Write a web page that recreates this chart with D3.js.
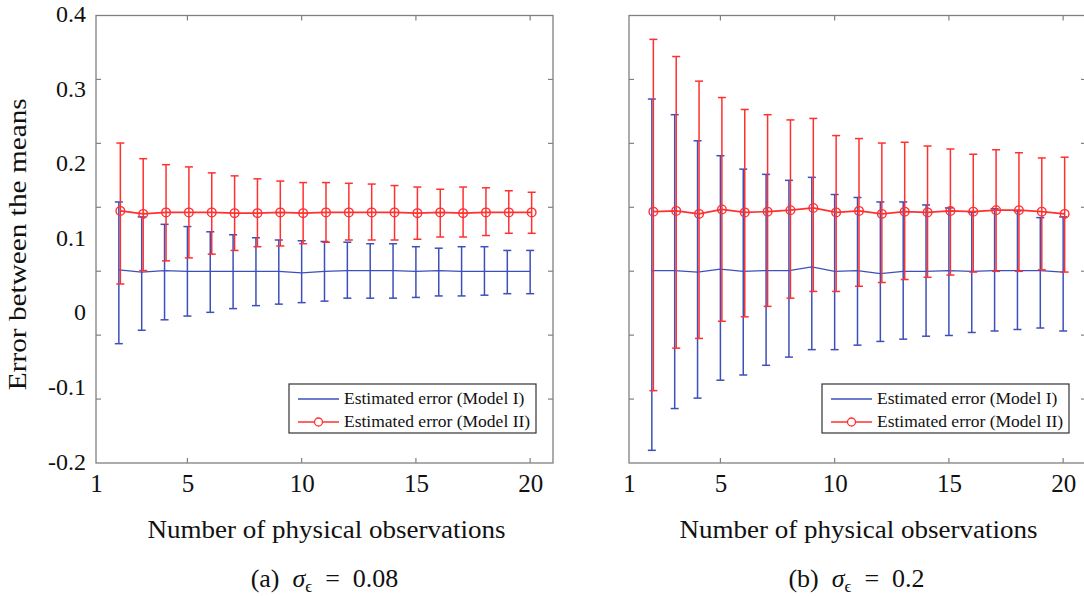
<!DOCTYPE html>
<html>
<head>
<meta charset="utf-8">
<script src="https://cdn.jsdelivr.net/npm/d3@7"></script>
<style>
  body { margin: 0; background: #fff; }
  svg { display: block; }
</style>
</head>
<body>
<svg id="chart" width="1084" height="596"></svg>
<script>
// number of physical observations (both panels)
var obs = [2, 3, 4, 5, 6, 7, 8, 9, 10, 11, 12, 13, 14, 15, 16, 17, 18, 19, 20];

// panel (a) sigma = 0.08
var m1MeanA = [0.059, 0.056, 0.058, 0.057, 0.057, 0.057, 0.057, 0.057, 0.055, 0.057, 0.058, 0.058, 0.058, 0.057, 0.058, 0.057, 0.057, 0.057, 0.057];
var m1LowA  = [-0.040, -0.022, -0.008, -0.003, 0.002, 0.007, 0.011, 0.013, 0.015, 0.017, 0.021, 0.021, 0.021, 0.022, 0.024, 0.024, 0.025, 0.027, 0.027];
var m1HighA = [0.150, 0.130, 0.120, 0.117, 0.110, 0.106, 0.102, 0.099, 0.098, 0.097, 0.096, 0.094, 0.094, 0.090, 0.088, 0.090, 0.090, 0.085, 0.085];
var m2MeanA = [0.138, 0.134, 0.136, 0.136, 0.136, 0.135, 0.135, 0.136, 0.135, 0.136, 0.136, 0.136, 0.136, 0.135, 0.136, 0.135, 0.136, 0.136, 0.136];
var m2LowA  = [0.040, 0.058, 0.071, 0.075, 0.080, 0.085, 0.090, 0.091, 0.094, 0.096, 0.099, 0.099, 0.099, 0.100, 0.103, 0.103, 0.105, 0.108, 0.108];
var m2HighA = [0.229, 0.208, 0.200, 0.197, 0.189, 0.185, 0.181, 0.178, 0.176, 0.176, 0.175, 0.174, 0.172, 0.170, 0.167, 0.170, 0.169, 0.165, 0.163];

// panel (b) sigma = 0.2
var m1MeanB = [0.058, 0.058, 0.056, 0.060, 0.057, 0.058, 0.058, 0.063, 0.057, 0.058, 0.054, 0.057, 0.057, 0.058, 0.057, 0.058, 0.058, 0.058, 0.056];
var m1LowB  = [-0.183, -0.127, -0.113, -0.089, -0.082, -0.069, -0.058, -0.048, -0.048, -0.042, -0.037, -0.034, -0.030, -0.029, -0.025, -0.023, -0.021, -0.019, -0.023];
var m1HighB = [0.288, 0.267, 0.232, 0.212, 0.194, 0.187, 0.179, 0.183, 0.160, 0.156, 0.150, 0.150, 0.146, 0.142, 0.136, 0.141, 0.138, 0.129, 0.130];
var m2MeanB = [0.137, 0.138, 0.134, 0.140, 0.136, 0.137, 0.139, 0.142, 0.136, 0.138, 0.134, 0.137, 0.136, 0.138, 0.137, 0.139, 0.139, 0.137, 0.134];
var m2LowB  = [-0.103, -0.046, -0.033, -0.010, -0.004, 0.010, 0.021, 0.030, 0.030, 0.037, 0.042, 0.046, 0.049, 0.052, 0.056, 0.057, 0.057, 0.059, 0.056];
var m2HighB = [0.368, 0.345, 0.312, 0.290, 0.274, 0.267, 0.260, 0.262, 0.239, 0.235, 0.229, 0.230, 0.225, 0.221, 0.214, 0.220, 0.216, 0.209, 0.210];

// tick labels
var xTicks = [1, 5, 10, 15, 20];
var yLabels = [-0.2, -0.1, 0, 0.1, 0.2, 0.3, 0.4];
// the plot's own tick marks (not labelled)
var yMarks = [-0.2, -0.1, 0, 0.1, 0.2, 0.3];
var legendNames = ["Estimated error (Model I)", "Estimated error (Model II)"];

var blue = "#3d4fbb", red = "#ff3030";
var serif = "'Liberation Serif', 'DejaVu Serif', serif";

var svg = d3.select("#chart");
svg.append("rect").attr("width", 1084).attr("height", 596).attr("fill", "#fff");

var plotTop = 15.5, plotBottom = 463;

function drawPanel(x0, x1, labelY, caption, m1, m2) {
  var g = svg.append("g").attr("font-family", serif);
  var x = d3.scaleLinear().domain([1, 21]).range([x0, x1]);
  var y = d3.scaleLinear().domain([-0.2, 0.4]).range([plotBottom, plotTop]);
  var yIn = d3.scaleLinear().domain([-0.3, 0.4]).range([plotBottom, plotTop]);

  // frame
  g.append("rect")
    .attr("x", x0).attr("y", plotTop)
    .attr("width", x1 - x0).attr("height", plotBottom - plotTop)
    .attr("fill", "none").attr("stroke", "#808080").attr("stroke-width", 1.3);

  // inward tick marks on all four sides
  var tk = 5;
  var xm = xTicks.slice(1);
  g.selectAll(".xtb").data(xm).enter().append("line")
    .attr("x1", x).attr("x2", x).attr("y1", plotBottom).attr("y2", plotBottom - tk)
    .attr("stroke", "#808080").attr("stroke-width", 1.2);
  g.selectAll(".xtt").data(xm).enter().append("line")
    .attr("x1", x).attr("x2", x).attr("y1", plotTop).attr("y2", plotTop + tk)
    .attr("stroke", "#808080").attr("stroke-width", 1.2);
  g.selectAll(".ytl").data(yMarks).enter().append("line")
    .attr("x1", x0).attr("x2", x0 + tk).attr("y1", yIn).attr("y2", yIn)
    .attr("stroke", "#808080").attr("stroke-width", 1.2);
  g.selectAll(".ytr").data(yMarks).enter().append("line")
    .attr("x1", x1).attr("x2", x1 - tk).attr("y1", yIn).attr("y2", yIn)
    .attr("stroke", "#808080").attr("stroke-width", 1.2);

  // x tick labels
  g.append("g")
    .attr("transform", "translate(0," + (plotBottom + 5) + ")")
    .call(d3.axisBottom(x).tickValues(xTicks).tickSize(0).tickFormat(d3.format("d")))
    .attr("font-family", serif)
    .call(function (a) { a.select(".domain").remove(); })
    .selectAll("text")
    .attr("font-size", 25).attr("dy", "0.85em").attr("fill", "#111");

  if (labelY) {
    g.append("g")
      .attr("transform", "translate(" + (x0 - 7) + ",0)")
      .call(d3.axisLeft(y).tickValues(yLabels).tickSize(0).tickFormat(function (d) { return String(d); }))
      .attr("font-family", serif)
      .call(function (a) { a.select(".domain").remove(); })
      .selectAll("text")
      .attr("font-size", 24).attr("dy", "0.25em").attr("fill", "#111");

    g.append("text")
      .attr("transform", "translate(26," + ((plotTop + plotBottom) / 2 + 5) + ") rotate(-90)")
      .attr("text-anchor", "middle")
      .attr("font-size", 25).attr("fill", "#111")
      .attr("textLength", 292).attr("lengthAdjust", "spacingAndGlyphs")
      .text("Error between the means");
  }

  // axis title and caption
  var cx = (x0 + Math.min(x1, 1084)) / 2 + 2;
  g.append("text")
    .attr("x", cx).attr("y", 538)
    .attr("text-anchor", "middle").attr("font-size", 26).attr("fill", "#111")
    .attr("textLength", 358).attr("lengthAdjust", "spacingAndGlyphs")
    .text("Number of physical observations");

  var cap = g.append("text")
    .attr("x", cx - 2).attr("y", 587)
    .attr("text-anchor", "middle").attr("font-size", 26).attr("fill", "#111");
  cap.append("tspan").text("(" + caption[0] + ")\u2002");
  cap.append("tspan").attr("font-style", "italic").text("σ");
  cap.append("tspan").attr("font-size", 17).attr("dy", 5).text("ϵ");
  cap.append("tspan").attr("dy", -5).text("\u2002=\u2002" + caption[1]);

  // series
  var series = [
    { mean: m1[0], lo: m1[1], hi: m1[2], color: blue, dx: 0, marker: false },
    { mean: m2[0], lo: m2[1], hi: m2[2], color: red, dx: 1.5, marker: true }
  ];

  series.forEach(function (s) {
    var pts = obs.map(function (o, i) { return { o: o, mean: s.mean[i], lo: s.lo[i], hi: s.hi[i] }; });
    var eg = g.append("g").attr("stroke", s.color).attr("stroke-width", 1.5).attr("fill", "none");
    var px = function (d) { return x(d.o) + s.dx; };

    eg.selectAll(".bar").data(pts).enter().append("line")
      .attr("x1", px).attr("x2", px)
      .attr("y1", function (d) { return y(d.lo); })
      .attr("y2", function (d) { return y(d.hi); });
    eg.selectAll(".caplo").data(pts).enter().append("line")
      .attr("x1", function (d) { return px(d) - 4; }).attr("x2", function (d) { return px(d) + 4; })
      .attr("y1", function (d) { return y(d.lo); }).attr("y2", function (d) { return y(d.lo); });
    eg.selectAll(".caphi").data(pts).enter().append("line")
      .attr("x1", function (d) { return px(d) - 4; }).attr("x2", function (d) { return px(d) + 4; })
      .attr("y1", function (d) { return y(d.hi); }).attr("y2", function (d) { return y(d.hi); });

    eg.append("path")
      .datum(pts)
      .attr("stroke-width", s.marker ? 1.6 : 1.2)
      .attr("d", d3.line().x(px).y(function (d) { return y(d.mean); }));

    if (s.marker) {
      eg.selectAll(".mk").data(pts).enter().append("circle")
        .attr("cx", px).attr("cy", function (d) { return y(d.mean); })
        .attr("r", 4.3).attr("stroke-width", 1.4);
    }
  });

  // legend
  var lw = 247, lh = 49, lx = x1 - 17 - lw, ly = 384;
  var lg = g.append("g").attr("transform", "translate(" + lx + "," + ly + ")");
  lg.append("rect").attr("width", lw).attr("height", lh)
    .attr("fill", "#fff").attr("stroke", "#333").attr("stroke-width", 1.2);
  legendNames.forEach(function (name, i) {
    var ry = 15 + i * 23;
    var c = i === 0 ? blue : red;
    lg.append("line").attr("x1", 9).attr("x2", 50).attr("y1", ry).attr("y2", ry)
      .attr("stroke", c).attr("stroke-width", 1.4);
    if (i === 1) {
      lg.append("circle").attr("cx", 29.5).attr("cy", ry).attr("r", 4)
        .attr("fill", "#fff").attr("stroke", c).attr("stroke-width", 1.3);
    }
    lg.append("text").attr("x", 55).attr("y", ry + 5)
      .attr("font-size", 17.5).attr("fill", "#111").text(name);
  });
}

drawPanel(96, 553, true, ["a", "0.08"], [m1MeanA, m1LowA, m1HighA], [m2MeanA, m2LowA, m2HighA]);
drawPanel(629, 1086, false, ["b", "0.2"], [m1MeanB, m1LowB, m1HighB], [m2MeanB, m2LowB, m2HighB]);
</script>
</body>
</html>
